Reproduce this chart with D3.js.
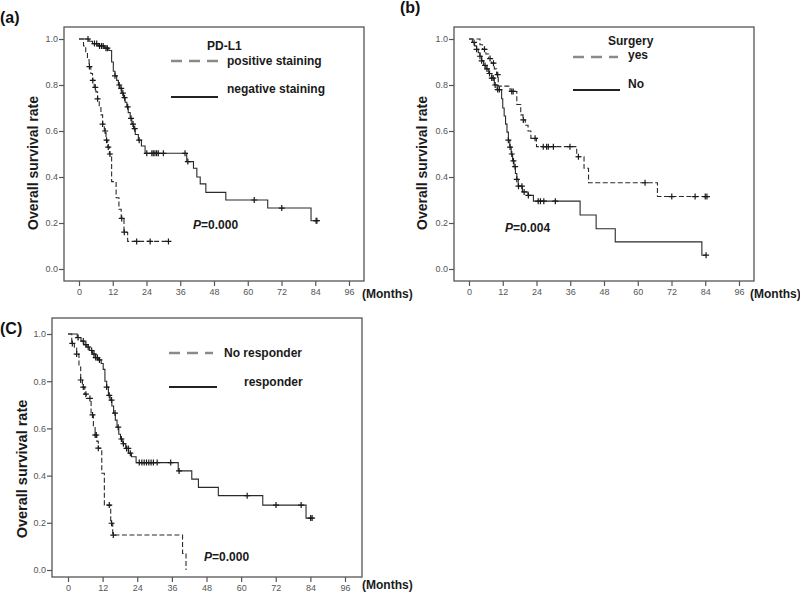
<!DOCTYPE html>
<html><head><meta charset="utf-8">
<script src="https://cdn.jsdelivr.net/npm/d3@7"></script>
<style>
html,body{margin:0;padding:0;background:#fff;}
svg{display:block;font-family:"Liberation Sans",Arial,sans-serif;}
</style></head>
<body><svg id="c" width="800" height="598"></svg>
<script>
// ---------- data ----------
const xTicks = [0,12,24,36,48,60,72,84,96];
const yTicks = [0.0,0.2,0.4,0.6,0.8,1.0];

// (a) PD-L1
const aNegT = [3.6,4.8,6.8,9.0,10.6,11.6,12.2,12.8,13.4,14.0,14.6,15.2,15.8,16.4,17.0,17.5,18.2,18.8,19.4,20.0,21.1,22.2,23.5,38.3,40.7,41.9,43.1,45.1,52.2,67.1,82.5];
const aNegS = [0.99,0.98,0.97,0.96,0.95,0.90,0.86,0.84,0.82,0.80,0.785,0.765,0.745,0.725,0.705,0.68,0.655,0.63,0.61,0.585,0.56,0.535,0.503,0.467,0.438,0.40,0.37,0.333,0.30,0.265,0.21];
const aNegC = [3.2,5.5,6.3,7.3,8.0,8.6,9.6,10.1,12.8,14.3,15.0,15.6,16.2,17.3,18.5,19.2,19.8,21.4,24.1,25.9,26.4,27.0,27.6,28.2,30.0,37.7,38.7,62.3,72.1,84.3,84.6];
const aPosT = [1.6,2.4,3.0,3.6,4.2,4.8,5.4,6.0,6.6,7.2,7.8,8.4,9.0,9.6,10.2,10.8,11.6,13.2,14.2,15.0,16.0,17.3];
const aPosS = [0.97,0.94,0.91,0.88,0.85,0.82,0.79,0.77,0.74,0.71,0.67,0.63,0.60,0.56,0.53,0.50,0.38,0.31,0.26,0.22,0.16,0.12];
const aPosC = [3.7,4.9,5.8,6.6,8.4,9.3,9.8,10.4,11.0,15.2,16.1,20.5,25.3,31.8];

// (b) Surgery
const bYesT = [3.9,4.8,6.0,7.0,8.0,9.0,9.8,10.4,14.6,17.0,18.4,19.2,20.0,21.0,22.0,24.0,38.3,40.9,42.5,67.0];
const bYesS = [0.975,0.955,0.935,0.915,0.895,0.87,0.845,0.795,0.772,0.715,0.67,0.648,0.625,0.60,0.568,0.532,0.488,0.438,0.375,0.315];
const bYesC = [5.5,7.5,8.7,10.2,15.2,15.7,19.3,23.5,26.4,27.6,28.2,30.0,35.9,38.9,62.6,72.1,80.4,84.0,84.6];
const bNoT = [1.2,2.0,2.7,3.3,3.9,4.5,5.2,6.0,7.0,8.1,9.0,10.0,11.6,12.0,12.5,13.0,13.5,14.0,14.5,15.0,15.5,16.0,16.5,17.0,17.5,19.0,21.0,22.9,39.5,45.2,52.0,82.8];
const bNoS = [0.985,0.97,0.955,0.94,0.925,0.905,0.885,0.87,0.85,0.83,0.80,0.78,0.74,0.70,0.665,0.63,0.595,0.56,0.53,0.50,0.47,0.445,0.415,0.39,0.36,0.335,0.32,0.295,0.235,0.175,0.118,0.06];
const bNoC = [1.8,2.7,3.9,4.5,5.7,6.4,7.3,8.1,8.6,9.3,10.2,10.8,14.0,14.6,15.2,15.8,16.4,17.0,17.6,18.8,19.6,21.1,24.6,25.4,26.6,30.7,84.3];

// (C) Response
const cRespT = [3.2,4.5,5.5,6.5,7.5,8.5,9.5,10.5,11.5,12.2,12.8,13.4,14.0,14.6,15.2,15.8,16.4,17.0,17.6,18.2,19.0,20.0,21.0,22.0,23.6,38.2,42.9,45.2,52.1,67.5,82.5];
const cRespS = [0.985,0.97,0.955,0.945,0.93,0.915,0.90,0.89,0.875,0.85,0.80,0.775,0.74,0.72,0.695,0.665,0.635,0.605,0.575,0.555,0.535,0.515,0.495,0.48,0.455,0.42,0.385,0.35,0.315,0.275,0.22];
const cRespC = [3.5,5.3,6.2,7.0,8.2,9.0,9.6,10.2,10.9,13.4,14.3,15.1,16.3,17.4,18.5,19.2,20.3,20.9,21.6,24.7,25.6,26.4,27.2,28.0,28.8,29.6,30.9,35.6,38.5,62.1,72.1,80.8,84.1,84.6];
const cNoT = [1.3,2.2,3.0,3.8,4.4,5.0,5.8,6.4,8.0,8.8,9.4,10.0,10.5,11.7,12.6,14.8,15.5,39.7,40.9];
const cNoS = [0.96,0.94,0.915,0.86,0.805,0.775,0.745,0.727,0.657,0.61,0.572,0.545,0.516,0.41,0.275,0.198,0.148,0.07,0.0];
const cNoC = [1.5,3.0,4.4,5.3,6.2,7.6,8.5,9.4,9.8,10.5,14.3,15.1,15.7];

// ---------- drawing ----------
const svg = d3.select("#c");
const FONT = '"Liberation Sans",Arial,sans-serif';

function survAt(T,S,t){let s=1;for(let i=0;i<T.length;i++){if(T[i]<=t+1e-9)s=S[i];}return s;}

function panel(cfg){
  const g = svg.append("g");
  const x = d3.scaleLinear().domain([0,96]).range([cfg.x0,cfg.x96]);
  const y = d3.scaleLinear().domain([0,1]).range([cfg.y0,cfg.y1]);
  g.append("rect").attr("x",cfg.fl).attr("y",cfg.ft).attr("width",cfg.fr-cfg.fl).attr("height",cfg.fb-cfg.ft)
   .attr("fill","none").attr("stroke","#555").attr("stroke-width",1.3);
  const ya = d3.axisLeft(y).tickValues(yTicks).tickFormat(d3.format(".1f")).tickSize(5).tickPadding(1);
  const yg = g.append("g").attr("transform",`translate(${cfg.fl},0)`).call(ya);
  const xa = d3.axisBottom(x).tickValues(xTicks).tickSize(5).tickPadding(3);
  const xg = g.append("g").attr("transform",`translate(0,${cfg.fb})`).call(xa);
  [yg,xg].forEach(a=>{
    a.select(".domain").remove();
    a.selectAll(".tick line").attr("stroke","#555").attr("stroke-width",1.2);
    a.selectAll(".tick text").attr("fill","#555").attr("font-size",9).attr("font-family",FONT);
  });
  cfg.curves.forEach(c=>{
    const end = Math.max(c.T[c.T.length-1], d3.max(c.C));
    const pts = [[0,1]].concat(c.T.map((t,i)=>[t,c.S[i]]));
    pts.push([end, c.S[c.S.length-1]]);
    const line = d3.line().x(d=>x(d[0])).y(d=>y(d[1])).curve(d3.curveStepAfter);
    g.append("path").attr("d",line(pts)).attr("fill","none").attr("stroke","#2a2a2a")
      .attr("stroke-width",1.1).attr("stroke-dasharray",c.dash?"5,2.5":null);
    c.C.forEach(t=>{
      const cx=x(t), cy=y(survAt(c.T,c.S,t));
      g.append("path").attr("d",`M${cx-3},${cy}H${cx+3}M${cx},${cy-3}V${cy+3}`)
        .attr("stroke","#1a1a1a").attr("stroke-width",1.2);
    });
  });
  cfg.legend.forEach(l=>{
    g.append("line").attr("x1",l.lx1).attr("x2",l.lx2).attr("y1",l.ly).attr("y2",l.ly)
      .attr("stroke",l.dash?"#8a8a8a":"#222").attr("stroke-width",l.dash?2.5:2)
      .attr("stroke-dasharray",l.dash?"11,7":null);
  });
  cfg.texts.forEach(tx=>{
    const t=g.append("text").attr("x",tx.x).attr("y",tx.y).attr("font-size",tx.size||12)
      .attr("font-weight","bold").attr("fill","#1a1a1a").attr("font-family",FONT);
    if(tx.p){t.append("tspan").attr("font-style","italic").text("P");t.append("tspan").text(tx.text);}
    else t.text(tx.text);
  });
  g.append("text").attr("transform",`translate(${cfg.ytx},${cfg.yty}) rotate(-90)`)
    .attr("text-anchor","middle").attr("font-size",cfg.ytSize||14).attr("font-weight","bold")
    .attr("fill","#1a1a1a").attr("font-family",FONT).text("Overall survival rate");
  g.append("text").attr("x",cfg.mx).attr("y",cfg.my).attr("font-size",12).attr("font-weight","bold")
    .attr("fill","#1a1a1a").attr("font-family",FONT).text("(Months)");
  g.append("text").attr("x",cfg.px).attr("y",cfg.py).attr("font-size",16).attr("font-weight","bold")
    .attr("fill","#111").attr("font-family",FONT).text(cfg.plabel);
}

panel({fl:64,ft:27,fr:364,fb:281,x0:79,x96:349,y0:269,y1:39,
  curves:[{T:aNegT,S:aNegS,C:aNegC,dash:false},{T:aPosT,S:aPosS,C:aPosC,dash:true}],
  legend:[{lx1:171,lx2:218,ly:61,dash:true},{lx1:171,lx2:218,ly:97,dash:false}],
  texts:[{x:207,y:50,text:"PD-L1"},{x:227,y:65,text:"positive staining"},{x:227,y:93,text:"negative staining"},
         {x:193,y:229,text:"=0.000",p:true}],
  ytx:38,yty:163,mx:362,my:298,px:0,py:23,plabel:"(a)"});

panel({fl:454,ft:27,fr:754,fb:281,x0:469,x96:739,y0:269,y1:39,
  curves:[{T:bNoT,S:bNoS,C:bNoC,dash:false},{T:bYesT,S:bYesS,C:bYesC,dash:true}],
  legend:[{lx1:573,lx2:618,ly:57,dash:true},{lx1:573,lx2:620,ly:90,dash:false}],
  texts:[{x:608,y:45,text:"Surgery"},{x:628,y:59,text:"yes"},{x:628,y:88,text:"No"},
         {x:505,y:232,text:"=0.004",p:true}],
  ytx:427,yty:163,mx:750,my:298,px:400,py:13,plabel:"(b)"});

panel({fl:52,ft:318,fr:362,fb:577,x0:68,x96:345,y0:570,y1:334,
  curves:[{T:cRespT,S:cRespS,C:cRespC,dash:false},{T:cNoT,S:cNoS,C:cNoC,dash:true}],
  legend:[{lx1:169,lx2:213,ly:353,dash:true},{lx1:169,lx2:217,ly:387,dash:false}],
  texts:[{x:224,y:357,text:"No responder"},{x:244,y:386,text:"responder"},
         {x:204,y:561,text:"=0.000",p:true}],
  ytx:27,yty:469,ytSize:14.5,mx:362,my:589,px:0,py:334,plabel:"(C)"});
</script></body></html>
